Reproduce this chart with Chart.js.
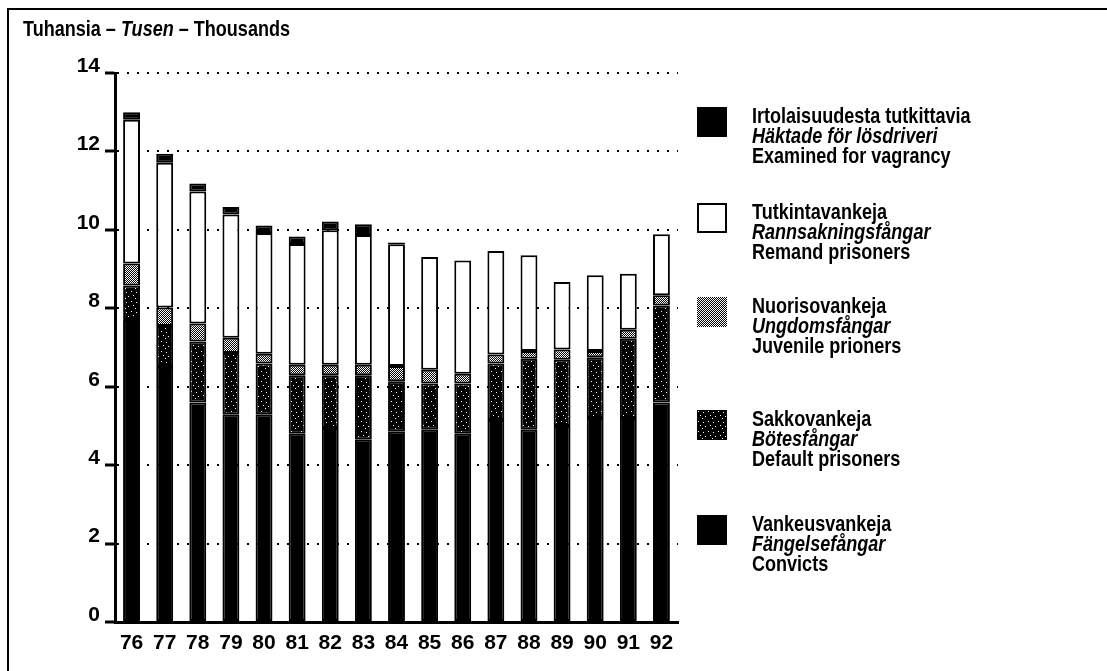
<!DOCTYPE html>
<html>
<head>
<meta charset="utf-8">
<script src="https://cdn.jsdelivr.net/npm/chart.js@4.4.1/dist/chart.umd.min.js"></script>
<style>
  html, body { margin: 0; padding: 0; background: #fff; }
  #wrap { position: relative; width: 1107px; height: 671px; overflow: hidden; background: #fff; }
  #frame { position: absolute; left: 7px; top: 8px; width: 1200px; height: 800px;
           border-left: 2px solid #000; border-top: 2px solid #000; }
  #c { position: absolute; left: 0; top: 0; }
  .txt { position: absolute; color: #000; font-weight: bold; white-space: nowrap;
         font-family: "Liberation Sans", Arial, sans-serif; font-size: 22px;
         transform: scaleX(0.82); transform-origin: 0 0; }
  .sw { position: absolute; }
</style>
</head>
<body>
<div id="wrap">
  <div id="frame"></div>
  <canvas id="c" width="1107" height="671"></canvas>
  <div id="title" class="txt"></div>
  <div id="legend"></div>
</div>
<script>
// ---------------- data ----------------
const years = ['76','77','78','79','80','81','82','83','84','85','86','87','88','89','90','91','92'];
const convicts  = [7.70, 6.50, 5.60, 5.30, 5.30, 4.80, 4.95, 4.65, 4.85, 4.90, 4.80, 5.15, 4.90, 5.00, 5.20, 5.20, 5.60];
const defaults  = [0.88, 1.05, 1.55, 1.56, 1.29, 1.49, 1.34, 1.64, 1.29, 1.18, 1.28, 1.44, 1.81, 1.69, 1.55, 2.02, 2.47];
const juveniles = [0.56, 0.47, 0.46, 0.39, 0.25, 0.27, 0.27, 0.27, 0.39, 0.35, 0.25, 0.23, 0.20, 0.26, 0.16, 0.23, 0.26];
const remand    = [3.67, 3.69, 3.37, 3.14, 3.08, 3.08, 3.43, 3.31, 3.10, 2.88, 2.89, 2.64, 2.44, 1.72, 1.93, 1.43, 1.56];
const vagrancy  = [0.19, 0.23, 0.20, 0.19, 0.19, 0.19, 0.22, 0.27, 0.05, 0, 0, 0, 0, 0, 0, 0, 0];
const yTicks    = [0, 2, 4, 6, 8, 10, 12, 14];

const titleParts = ['Tuhansia – ', 'Tusen', ' – Thousands'];
// legend order top to bottom
const legendFi = ['Irtolaisuudesta tutkittavia', 'Tutkintavankeja', 'Nuorisovankeja', 'Sakkovankeja', 'Vankeusvankeja'];
const legendSv = ['Häktade för lösdriveri', 'Rannsakningsfångar', 'Ungdomsfångar', 'Bötesfångar', 'Fängelsefångar'];
const legendEn = ['Examined for vagrancy', 'Remand prisoners', 'Juvenile prioners', 'Default prisoners', 'Convicts'];

const FAM = '"Liberation Sans", Arial, sans-serif';

// ---------------- patterns ----------------
function makePattern(w, h, bg, fg, pts) {
  const pc = document.createElement('canvas');
  pc.width = w; pc.height = h;
  const g = pc.getContext('2d');
  g.fillStyle = bg; g.fillRect(0, 0, w, h);
  g.fillStyle = fg;
  pts.forEach(p => g.fillRect(p[0], p[1], p[2] || 1, p[3] || 1));
  return pc;
}
const checkTile = makePattern(4, 4, '#000', '#fff', [[0,0],[2,0],[1,1],[3,1],[0,2],[2,2],[1,3],[3,3]]);
const dotTile = makePattern(10, 10, '#000', '#fff', [[1,1],[6,2],[3,5],[8,6],[5,8]]);

const mainCtx = document.getElementById('c').getContext('2d');
const checkPat = mainCtx.createPattern(checkTile, 'repeat');
const dotPat = mainCtx.createPattern(dotTile, 'repeat');

// ---------------- title ----------------
const title = document.getElementById('title');
title.style.lineHeight = '22px';
title.style.left = '23px';
title.style.top = '18px';
title.innerHTML = titleParts[0] + '<i>' + titleParts[1] + '</i>' + titleParts[2];

// ---------------- legend ----------------
const legendFills = ['black', 'white', 'check', 'dots', 'black'];
const legendBoxTop = [107, 203, 297, 410, 515];
const legend = document.getElementById('legend');
legendFi.forEach((fi, i) => {
  const sw = document.createElement('canvas');
  sw.className = 'sw';
  sw.width = 30; sw.height = 30;
  sw.style.left = '697px';
  sw.style.top = legendBoxTop[i] + 'px';
  const g = sw.getContext('2d');
  const f = legendFills[i];
  if (f === 'black') { g.fillStyle = '#000'; g.fillRect(0, 0, 30, 30); }
  else if (f === 'white') { g.fillStyle = '#000'; g.fillRect(0, 0, 30, 30); g.fillStyle = '#fff'; g.fillRect(2, 2, 26, 26); }
  else if (f === 'check') { g.fillStyle = g.createPattern(checkTile, 'repeat'); g.fillRect(0, 0, 30, 30); }
  else { g.fillStyle = g.createPattern(dotTile, 'repeat'); g.fillRect(0, 0, 30, 30); }
  legend.appendChild(sw);

  const t = document.createElement('div');
  t.className = 'txt';
  t.style.lineHeight = '20px';
  t.style.left = '752px';
  t.style.top = (legendBoxTop[i] - 1) + 'px';
  t.innerHTML = fi + '<br><i>' + legendSv[i] + '</i><br>' + legendEn[i];
  legend.appendChild(t);
});

// ---------------- chart ----------------
const tickFontX = { family: FAM, size: 21, weight: 'bold' };
const tickFontY = { family: FAM, size: 21, weight: 'bold' };

new Chart(mainCtx, {
  type: 'bar',
  data: {
    labels: years,
    datasets: [
      { label: 'Convicts', data: convicts, backgroundColor: '#000' },
      { label: 'Default prisoners', data: defaults, backgroundColor: dotPat },
      { label: 'Juvenile prisoners', data: juveniles, backgroundColor: checkPat },
      { label: 'Remand prisoners', data: remand, backgroundColor: '#fff' },
      { label: 'Examined for vagrancy', data: vagrancy, backgroundColor: '#000' }
    ]
  },
  options: {
    responsive: false,
    animation: false,
    devicePixelRatio: 1,
    layout: { padding: { left: 0, top: 73, right: 429, bottom: 0 } },
    plugins: { legend: { display: false }, tooltip: { enabled: false }, title: { display: false } },
    datasets: {
      bar: { barPercentage: 0.51, categoryPercentage: 1, borderSkipped: false, borderColor: '#000', borderWidth: 2 }
    },
    scales: {
      x: {
        stacked: true,
        grid: { display: false, drawTicks: false },
        border: { display: true, color: '#000', width: 3 },
        ticks: { color: '#000', font: tickFontX, padding: 9, autoSkip: false, maxRotation: 0, minRotation: 0 },
        afterFit(s) { s.height = 49; }
      },
      y: {
        stacked: true,
        min: 0, max: 14,
        afterBuildTicks(s) { s.ticks = yTicks.map(v => ({ value: v })); },
        ticks: { color: '#000', font: tickFontY, padding: 5, labelOffset: -7 },
        grid: { color: '#000', lineWidth: 2, drawTicks: true, tickLength: 10, tickWidth: 3, tickColor: '#000', tickBorderDash: [] },
        border: { display: true, color: '#000', width: 3, dash: [2, 8] },
        afterFit(s) { s.width = 115; }
      }
    }
  }
});
</script>
</body>
</html>
